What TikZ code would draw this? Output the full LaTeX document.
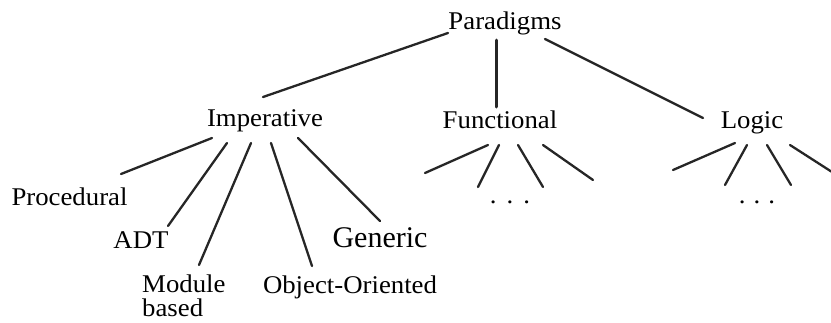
\documentclass[tikz,border=0pt]{standalone}
\usepackage{fontspec}
\setmainfont{Liberation Serif}[FakeStretch=1.05]
\newfontfamily\genfont{Liberation Serif}
\begin{document}
\begin{tikzpicture}[x=1pt,y=-1pt,
  lbl/.style={inner sep=0pt,font=\fontsize{25.5}{24}\selectfont},
  edge/.style={line width=2.3pt,color=black!85,line cap=round}]
\useasboundingbox (0,0) rectangle (831,322);
% nodes
\node[lbl,anchor=base] (par) at (505,29) {Paradigms};
\node[lbl,anchor=base] (imp) at (265,126) {Imperative};
\node[lbl,anchor=base] (fun) at (500,128) {Functional};
\node[lbl,anchor=base] (log) at (752,128) {Logic};
\node[lbl,anchor=base] (pro) at (69.5,205) {Procedural};
\node[lbl,anchor=base] (adt) at (141,248) {ADT};
\node[inner sep=0pt,font=\genfont\fontsize{30}{30}\selectfont,anchor=base] (gen) at (380,247) {Generic};
\node[lbl,anchor=base west,align=left,font=\fontsize{25.5}{24}\selectfont] (mod) at (142,316) {Module\\based};
\node[lbl,anchor=base] (oo) at (350,293) {Object-Oriented};
\node[lbl,anchor=base] (fdots) at (510,203) {.\hspace{10pt}.\hspace{10pt}.};
\node[lbl,anchor=base] (ldots) at (757,203) {.\hspace{8pt}.\hspace{8pt}.};
% connector end points
\coordinate (p1) at (448,33);  \coordinate (i0) at (263,97);
\coordinate (p2) at (496,40);  \coordinate (f0) at (496,107);
\coordinate (p3) at (545,39);  \coordinate (l0) at (703,118);
\coordinate (i1) at (212,138); \coordinate (pro0) at (121,174);
\coordinate (i2) at (227,143); \coordinate (adt0) at (168,226);
\coordinate (i3) at (251,143); \coordinate (mod0) at (199,265);
\coordinate (i4) at (271,143); \coordinate (oo0) at (312,266);
\coordinate (i5) at (298,138); \coordinate (gen0) at (380,221);
\coordinate (f1) at (488,145); \coordinate (fa) at (425,173);
\coordinate (f2) at (499,145); \coordinate (fb) at (478,187);
\coordinate (f3) at (518,145); \coordinate (fc) at (543,187);
\coordinate (f4) at (543,145); \coordinate (fd) at (593,180);
\coordinate (l1) at (735,143); \coordinate (la) at (673,170);
\coordinate (l2) at (747,145); \coordinate (lb) at (725,185);
\coordinate (l3) at (767,145); \coordinate (lc) at (791,185);
\coordinate (l4) at (790,145); \coordinate (ld) at (832,172);
% connectors
\draw[edge] (p1) -- (i0);
\draw[edge,line width=3pt] (p2) -- (f0);
\draw[edge] (p3) -- (l0);
\draw[edge] (i1) -- (pro0);
\draw[edge] (i2) -- (adt0);
\draw[edge] (i3) -- (mod0);
\draw[edge] (i4) -- (oo0);
\draw[edge] (i5) -- (gen0);
\draw[edge] (f1) -- (fa);
\draw[edge] (f2) -- (fb);
\draw[edge] (f3) -- (fc);
\draw[edge] (f4) -- (fd);
\draw[edge] (l1) -- (la);
\draw[edge] (l2) -- (lb);
\draw[edge] (l3) -- (lc);
\draw[edge] (l4) -- (ld);
\end{tikzpicture}
\end{document}
